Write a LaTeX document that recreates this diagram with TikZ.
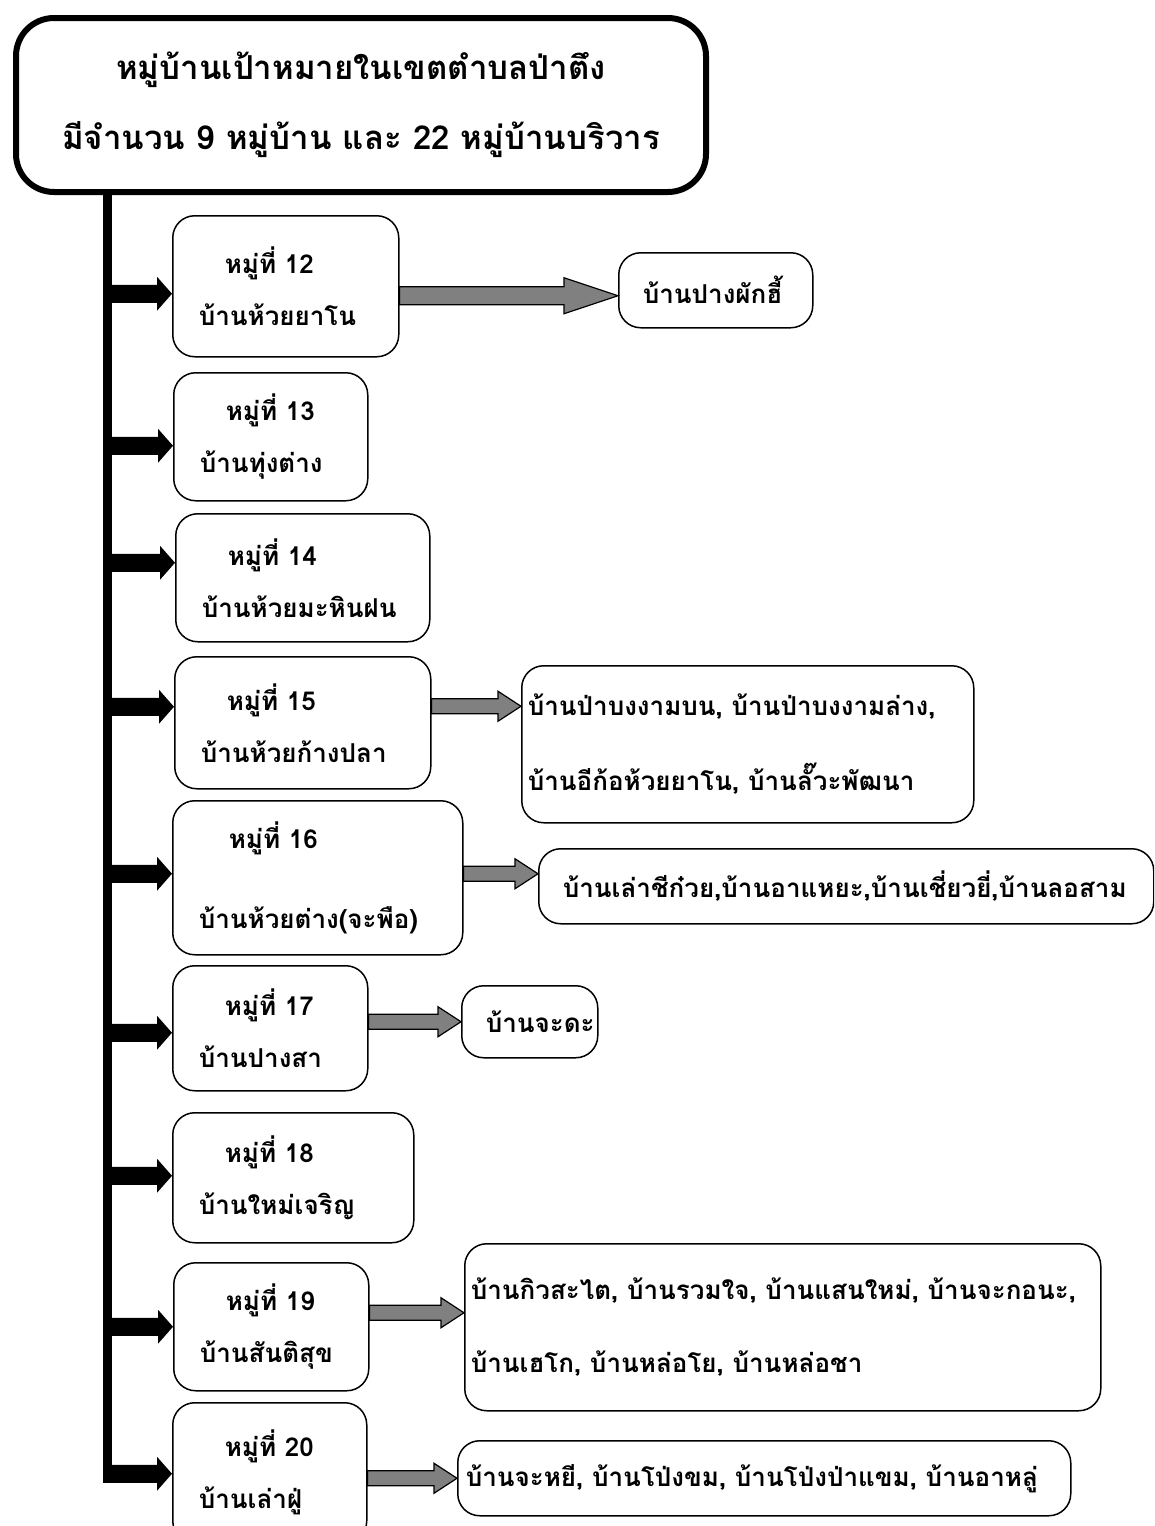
\documentclass[tikz,border=0pt]{standalone}
\usepackage{fontspec}
\usepackage{xcolor}
\usepackage{tikz}
\newfontfamily\thaifont[Script=Thai]{Loma}
\usetikzlibrary{positioning,calc,arrows.meta}
\definecolor{shaftgray}{RGB}{128,128,128}

% block arrow: style, start, end, half shaft, head length, half head
\newcommand{\blockarrow}[6]{%
  \path[#1] let \p1=#2, \p2=#3 in
    (\x1,\y2+#4) -- (\x2-#5,\y2+#4) -- (\x2-#5,\y2+#6) -- (\x2,\y2)
    -- (\x2-#5,\y2-#6) -- (\x2-#5,\y2-#4) -- (\x1,\y2-#4) -- cycle;}

\begin{document}
\begin{tikzpicture}[x=1pt, y=-1pt,
    topbox/.style={rectangle, draw, line width=6pt, rounded corners=38pt, anchor=north west, align=center, font=\thaifont\bfseries\fontsize{33}{70}\selectfont},
    mubox/.style={rectangle, draw, line width=1.5pt, rounded corners=22pt, anchor=north west, align=left, inner xsep=26pt, inner ysep=0pt, font=\thaifont\bfseries\fontsize{26}{52}\selectfont},
    banbox/.style={mubox, inner xsep=24pt},
    feedarr/.style={fill=black},
    grayarr/.style={draw=black, fill=shaftgray, line width=1.2pt}]
    \clip (0,0) rectangle (1154,1526);
    \fill[white] (0,0) rectangle (1154,1526);

    \node[topbox, minimum width=690pt, minimum height=174pt] (top) at (13,15) {หมู่บ้านเป้าหมายในเขตตำบลป่าตึง\\มีจำนวน 9 หมู่บ้าน และ 22 หมู่บ้านบริวาร};

    % villages
    \node[mubox, minimum width=226pt, minimum height=141pt, text width=174pt] (m12) at (172,215) {\hspace*{26pt}หมู่ที่ 12\\บ้านห้วยยาโน};
    \node[mubox, minimum width=194pt, minimum height=128pt, text width=142pt] (m13) at (173,372) {\hspace*{26pt}หมู่ที่ 13\\บ้านทุ่งต่าง};
    \node[mubox, minimum width=254pt, minimum height=128pt, text width=202pt] (m14) at (175,513) {\hspace*{26pt}หมู่ที่ 14\\บ้านห้วยมะหินฝน};
    \node[mubox, minimum width=256pt, minimum height=132pt, text width=204pt] (m15) at (174,656) {\hspace*{26pt}หมู่ที่ 15\\บ้านห้วยก้างปลา};
    \node[mubox, minimum width=290pt, minimum height=154pt, text width=238pt] (m16) at (172,800) {\hspace*{30pt}หมู่ที่ 16\\[28pt]บ้านห้วยต่าง(จะพือ)};
    \node[mubox, minimum width=195pt, minimum height=125pt, text width=143pt] (m17) at (172,965) {\hspace*{26pt}หมู่ที่ 17\\บ้านปางสา};
    \node[mubox, minimum width=241pt, minimum height=130pt, text width=189pt] (m18) at (172,1112) {\hspace*{26pt}หมู่ที่ 18\\บ้านใหม่เจริญ};
    \node[mubox, minimum width=195pt, minimum height=128pt, text width=143pt] (m19) at (173,1262) {\hspace*{26pt}หมู่ที่ 19\\บ้านสันติสุข};
    \node[mubox, minimum width=194pt, minimum height=140pt, text width=142pt] (m20) at (172,1402) {\hspace*{26pt}หมู่ที่ 20\\บ้านเล่าฝู่};

    % satellite villages
    \node[banbox, minimum width=194pt, minimum height=75pt, text width=146pt] (r12) at (618,252) {บ้านปางผักฮี้};
    \node[banbox, inner xsep=6pt, minimum width=452pt, minimum height=157pt, text width=440pt] (r15) at (521,665) {บ้านป่าบงงามบน, บ้านป่าบงงามล่าง,\\[23pt]บ้านอีก้อห้วยยาโน, บ้านลั๊วะพัฒนา};
    \node[banbox, minimum width=615pt, minimum height=75pt, text width=567pt] (r16) at (538,848) {บ้านเล่าชีก๋วย,บ้านอาแหยะ,บ้านเชี่ยวยี่,บ้านลอสาม};
    \node[banbox, minimum width=136pt, minimum height=72pt, text width=88pt] (r17) at (461,985) {บ้านจะดะ};
    \node[banbox, inner xsep=6pt, minimum width=636pt, minimum height=167pt, text width=624pt] (r19) at (464,1243) {บ้านกิวสะไต, บ้านรวมใจ, บ้านแสนใหม่, บ้านจะกอนะ,\\[21pt]บ้านเฮโก, บ้านหล่อโย, บ้านหล่อชา};
    \node[banbox, inner xsep=8pt, minimum width=613pt, minimum height=75pt, text width=597pt] (r20) at (457,1440) {บ้านจะหยี, บ้านโป่งขม, บ้านโป่งป่าแขม, บ้านอาหลู่};

    % trunk
    \coordinate (trunktop) at (107.5,189);
    \coordinate (trunkend) at (107.5,1482);
    \draw[line width=9pt] (trunktop) -- (trunkend);

    \coordinate (f12) at ([yshift=-7.5pt]m12.west);
    \coordinate (f13) at ([yshift=-9pt]m13.west);
    \coordinate (f14) at ([yshift=15pt]m14.west);
    \coordinate (f15) at ([yshift=16pt]m15.west);
    \coordinate (f16) at ([yshift=4pt]m16.west);
    \coordinate (f17) at ([yshift=-4.5pt]m17.west);
    \coordinate (f18) at ([yshift=2pt]m18.west);
    \coordinate (f19) at (m19.west);
    \coordinate (f20) at ([yshift=-1pt]m20.west);
    \blockarrow{feedarr}{(trunktop)}{(f12)}{9pt}{15pt}{17pt}
    \blockarrow{feedarr}{(trunktop)}{(f13)}{9pt}{15pt}{17pt}
    \blockarrow{feedarr}{(trunktop)}{(f14)}{9pt}{15pt}{17pt}
    \blockarrow{feedarr}{(trunktop)}{(f15)}{9pt}{15pt}{17pt}
    \blockarrow{feedarr}{(trunktop)}{(f16)}{9pt}{15pt}{17pt}
    \blockarrow{feedarr}{(trunktop)}{(f17)}{9pt}{15pt}{17pt}
    \blockarrow{feedarr}{(trunktop)}{(f18)}{9pt}{15pt}{17pt}
    \blockarrow{feedarr}{(trunktop)}{(f19)}{9pt}{15pt}{17pt}
    \blockarrow{feedarr}{([xshift=-4.5pt]trunktop)}{(f20)}{9pt}{15pt}{17pt}

    % to satellite villages
    \coordinate (g12) at ([yshift=-5.5pt]r12.west);
    \coordinate (g15) at ([yshift=38pt]r15.west);
    \coordinate (g16) at ([yshift=12.5pt]r16.west);
    \coordinate (g17) at (r17.west);
    \coordinate (g19) at ([yshift=14.5pt]r19.west);
    \coordinate (g20) at (r20.west);
    \blockarrow{grayarr}{(m12.east)}{(g12)}{9pt}{54pt}{18pt}
    \blockarrow{grayarr}{(m15.east)}{(g15)}{7.5pt}{23pt}{15pt}
    \blockarrow{grayarr}{(m16.east)}{(g16)}{7.5pt}{23pt}{15pt}
    \blockarrow{grayarr}{(m17.east)}{(g17)}{7.5pt}{23pt}{15pt}
    \blockarrow{grayarr}{(m19.east)}{(g19)}{7.5pt}{23pt}{15pt}
    \blockarrow{grayarr}{(m20.east)}{(g20)}{7.5pt}{23pt}{15pt}
\end{tikzpicture}
\end{document}
